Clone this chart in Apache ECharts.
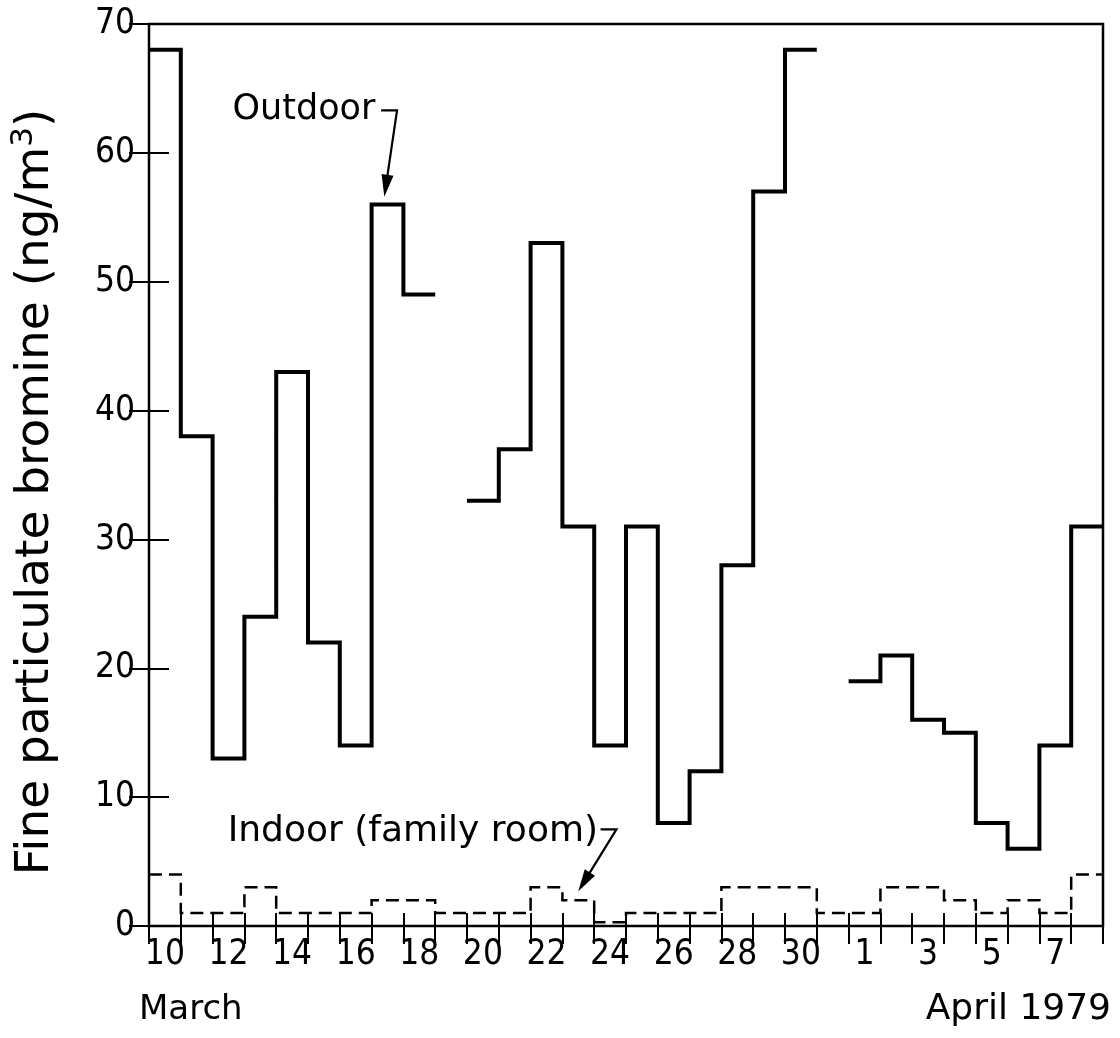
<!DOCTYPE html>
<html>
<head>
<meta charset="utf-8">
<script src="https://cdn.jsdelivr.net/npm/echarts@6/dist/echarts.min.js"></script>
<style>
html,body{margin:0;padding:0;background:#fff;}
#chart{width:1120px;height:1038px;}
</style>
</head>
<body>
<div id="chart"></div>
<script>
// Day labels (March 10 .. April 8, 1979)
const days = ['10','11','12','13','14','15','16','17','18','19','20','21','22','23','24','25','26','27','28','29','30','31','1','2','3','4','5','6','7','8'];
// Outdoor fine particulate bromine (ng/m3); null = no sample
const outdoor = [68,38,13,24,43,22,14,56,49,null,33,37,53,31,14,31,8,12,28,57,68,null,19,21,16,15,8,6,14,31];
// Indoor (family room)
const indoor = [4,1,1,3,1,1,1,2,2,1,1,1,3,2,0.3,1,1,1,3,3,3,1,1,3,3,2,1,2,1,4];
const yTicks = [0,10,20,30,40,50,60,70];

function steps(vals){
  const pts = [];
  vals.forEach((v,i)=>{
    if (v === null) { pts.push([i+0.5,'-']); return; }
    pts.push([i, v], [i+1, v]);
  });
  return pts;
}

const chart = echarts.init(document.getElementById('chart'), null, {renderer:'canvas'});
const numFont = "'Liberation Sans Narrow','DejaVu Sans Condensed',sans-serif";
const txtFont = "'DejaVu Sans',sans-serif";

const option = {
  animation:false,
  backgroundColor:'#fff',
  grid:{left:142,right:17,top:24,bottom:112,show:true,borderColor:'#000',borderWidth:2.5,backgroundColor:'transparent'},
  xAxis:[
    {type:'value',min:0,max:days.length,interval:1,position:'bottom',
     axisLine:{show:false},axisTick:{show:true,inside:true,length:13,lineStyle:{color:'#000',width:2}},
     axisLabel:{show:false},splitLine:{show:false}},
    {type:'value',min:0,max:days.length,interval:1,position:'top',
     axisLine:{show:false},axisTick:{show:true,inside:true,length:18,lineStyle:{color:'#000',width:2}},
     axisLabel:{show:false},splitLine:{show:false}},
    {type:'category',data:days,position:'bottom',boundaryGap:true,
     axisLine:{show:false},axisTick:{show:false},splitLine:{show:false},
     axisLabel:{interval:1,margin:11,color:'#000',fontSize:35,fontFamily:numFont}}
  ],
  yAxis:[
    {type:'value',min:0,max:70,interval:10,position:'left',
     axisLine:{show:false},axisTick:{show:true,inside:true,length:20,lineStyle:{color:'#000',width:2}},
     axisLabel:{margin:14,color:'#000',fontSize:35,fontFamily:numFont,formatter:v=>yTicks.includes(v)?String(v):''},
     splitLine:{show:false},
     name:'Fine particulate bromine (ng/m{sup|3})',nameLocation:'middle',nameGap:86,nameRotate:90,
     nameTextStyle:{color:'#000',fontSize:47,fontFamily:txtFont,padding:[0,34,0,0],
       rich:{sup:{fontSize:31,verticalAlign:'top',padding:[0,0,24,0],fontFamily:txtFont,color:'#000'}}}},
    {type:'value',min:0,max:70,interval:10,position:'right',
     axisLine:{show:false},axisTick:{show:true,inside:true,length:20,lineStyle:{color:'#000',width:2}},
     axisLabel:{show:false},splitLine:{show:false}}
  ],
  series:[
    {name:'Outdoor',type:'line',xAxisIndex:0,yAxisIndex:0,data:steps(outdoor),showSymbol:false,symbol:'none',
     connectNulls:false,lineStyle:{color:'#000',width:4,join:'miter',cap:'butt'}},
    {name:'Indoor (family room)',type:'line',xAxisIndex:0,yAxisIndex:0,data:steps(indoor),showSymbol:false,symbol:'none',
     connectNulls:false,lineStyle:{color:'#000',width:2.5,type:[13,7],join:'miter',cap:'butt'}}
  ]
};
chart.setOption(option);

// Annotations placed in data coordinates
function px(x,y){ return chart.convertToPixel({xAxisIndex:0,yAxisIndex:0},[x,y]); }
function arrow(pts, id){
  const n = pts.length, a = pts[n-2], b = pts[n-1];
  const dx=b[0]-a[0], dy=b[1]-a[1], L=Math.hypot(dx,dy), ux=dx/L, uy=dy/L;
  const hl=22, hw=6;
  const base=[b[0]-ux*hl,b[1]-uy*hl];
  const lineEnd=[b[0]-ux*hl*0.7,b[1]-uy*hl*0.7];
  const linePts = pts.slice(0,n-1).concat([lineEnd]);
  return [
    {type:'polyline',id:id+'l',shape:{points:linePts},style:{stroke:'#000',lineWidth:2.2,fill:null}},
    {type:'polygon',id:id+'h',shape:{points:[b,[base[0]-uy*hw,base[1]+ux*hw],[base[0]+uy*hw,base[1]-ux*hw]]},style:{fill:'#000'}}
  ];
}
const oText = px(7.12,63.3), iText = px(14.12,7.3);
const graphics = [
  {type:'text',x:oText[0],y:oText[1],style:{text:'Outdoor',font:'35px '+txtFont,fill:'#000',textAlign:'right',textVerticalAlign:'middle'}},
  {type:'text',x:iText[0],y:iText[1],style:{text:'Indoor (family room)',font:'36px '+txtFont,fill:'#000',textAlign:'right',textVerticalAlign:'middle'}},
  {type:'text',x:139,y:1010,style:{text:'March',font:'34px '+txtFont,fill:'#000',textAlign:'left',textVerticalAlign:'middle'}},
  {type:'text',x:1111,y:1010,style:{text:'April 1979',font:'36px '+txtFont,fill:'#000',textAlign:'right',textVerticalAlign:'middle'}}
].concat(
  arrow([px(7.3,63.3),px(7.8,63.3),px(7.4,56.6)],'oa'),
  arrow([px(14.2,7.5),px(14.7,7.5),px(13.5,2.7)],'ia')
);
chart.setOption({graphic:graphics});
</script>
</body>
</html>
